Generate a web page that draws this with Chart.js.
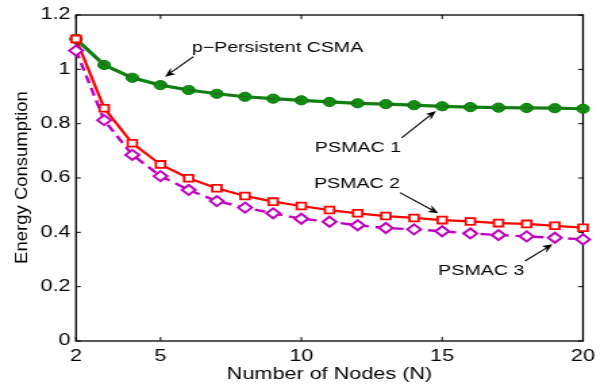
<!DOCTYPE html>
<html>
<head>
<meta charset="utf-8">
<script src="https://cdn.jsdelivr.net/npm/chart.js@4"></script>
<style>
html,body{margin:0;padding:0;background:#fff;overflow:hidden;width:608px;height:389px;}
#wrap{width:450px;height:389px;transform:scaleX(1.3511);transform-origin:0 0;}
</style>
</head>
<body>
<div id="wrap"><canvas id="c" width="450" height="389"></canvas></div>
<script>
// ---- data ----
const nodes = [2,3,4,5,6,7,8,9,10,11,12,13,14,15,16,17,18,19,20];
const csmaValues   = [1.112,1.016,0.969,0.942,0.924,0.910,0.899,0.892,0.886,0.880,0.875,0.872,0.868,0.864,0.861,0.859,0.858,0.857,0.855];
const psmac1Values = [1.112,1.016,0.969,0.942,0.924,0.910,0.899,0.892,0.886,0.880,0.875,0.872,0.868,0.864,0.861,0.859,0.858,0.857,0.855];
const psmac2Values = [1.112,0.857,0.728,0.650,0.599,0.562,0.534,0.513,0.497,0.482,0.470,0.460,0.453,0.445,0.440,0.434,0.431,0.424,0.417];
const psmac3Values = [1.069,0.813,0.685,0.607,0.556,0.515,0.491,0.470,0.450,0.439,0.426,0.416,0.411,0.404,0.396,0.390,0.385,0.380,0.374];
const xTicks = [2,5,10,15,20];
const yTicks = [0,0.2,0.4,0.6,0.8,1,1.2];
const yTickLabels = ['0','0.2','0.4','0.6','0.8','1','1.2'];
const xTitle = 'Number of Nodes (N)';
const yTitle = 'Energy Consumption';
// annotation labels (data coordinates)
const annoText   = ['p\u2212Persistent CSMA','PSMAC 1','PSMAC 2','PSMAC 3'];
const annoTextX  = [6.11, 10.48, 10.45, 14.86];
const annoTextY  = [1.079, 0.711, 0.580, 0.2595];
const arrowFromX = [6.17, 13.56, 13.50, 17.94];
const arrowFromY = [1.047, 0.748, 0.546, 0.2945];
const arrowToX   = [5.16, 14.78, 14.86, 18.92];
const arrowToY   = [0.973, 0.847, 0.470, 0.356];

const S = 1.3511; // horizontal stretch of the wrapper
const FONT = '"Liberation Sans", Arial, Helvetica, sans-serif';

const pts = vals => nodes.map((n,i)=>({x:n,y:vals[i]}));

const framePlugin = {
  id:'frame',
  beforeDatasetsDraw(chart){
    const {ctx, chartArea:a, scales:{x,y}} = chart;
    ctx.save();
    ctx.strokeStyle='#000';
    ctx.lineWidth=1.3;
    ctx.strokeRect(a.left,a.top,a.right-a.left,a.bottom-a.top);
    ctx.lineWidth=1;
    const tl=4;
    xTicks.forEach(v=>{
      const px=x.getPixelForValue(v);
      ctx.beginPath();
      ctx.moveTo(px,a.bottom);ctx.lineTo(px,a.bottom-tl);
      ctx.moveTo(px,a.top);ctx.lineTo(px,a.top+tl);
      ctx.stroke();
    });
    yTicks.forEach(v=>{
      const py=y.getPixelForValue(v);
      ctx.beginPath();
      ctx.moveTo(a.left,py);ctx.lineTo(a.left+tl/S*1.2,py);
      ctx.moveTo(a.right,py);ctx.lineTo(a.right-tl/S*1.2,py);
      ctx.stroke();
    });
    ctx.restore();
  },
  afterDraw(chart){
    const {ctx, scales:{x,y}} = chart;
    ctx.save();
    // y-axis title (compensate horizontal stretch)
    ctx.translate(22/S, 177.5);
    ctx.scale(1/S,1);
    ctx.rotate(-Math.PI/2);
    ctx.fillStyle='#000';
    ctx.font='18.5px '+FONT;
    ctx.textAlign='center';
    ctx.textBaseline='middle';
    ctx.fillText(yTitle,0,0);
    ctx.restore();

    // annotations
    ctx.save();
    ctx.fillStyle='#000';
    ctx.strokeStyle='#000';
    ctx.font='14.5px '+FONT;
    ctx.textAlign='left';
    ctx.textBaseline='middle';
    annoText.forEach((t,i)=>{
      ctx.fillText(t, x.getPixelForValue(annoTextX[i]), y.getPixelForValue(annoTextY[i])+0.5);
      // arrow, computed in displayed (stretched) space
      const x0=x.getPixelForValue(arrowFromX[i])*S, y0=y.getPixelForValue(arrowFromY[i]);
      const x1=x.getPixelForValue(arrowToX[i])*S,   y1=y.getPixelForValue(arrowToY[i]);
      const ang=Math.atan2(y1-y0,x1-x0);
      const L=10, W=4;
      const bx=x1-L*Math.cos(ang), by=y1-L*Math.sin(ang);
      const nx=-Math.sin(ang), ny=Math.cos(ang);
      const mx=x1-L*0.7*Math.cos(ang), my=y1-L*0.7*Math.sin(ang);
      ctx.lineWidth=1.1;
      ctx.beginPath();
      ctx.moveTo(x0/S,y0);ctx.lineTo(mx/S,my);
      ctx.stroke();
      ctx.beginPath();
      ctx.moveTo(x1/S,y1);
      ctx.lineTo((bx+nx*W)/S,by+ny*W);
      ctx.lineTo(mx/S,my);
      ctx.lineTo((bx-nx*W)/S,by-ny*W);
      ctx.closePath();
      ctx.fill();
    });
    ctx.restore();
  }
};

new Chart(document.getElementById('c'),{
  type:'line',
  data:{
    datasets:[
      {label:'PSMAC 1',data:pts(psmac1Values),borderColor:'#0c8a0c',backgroundColor:'#0c8a0c',
       borderWidth:3.2,pointStyle:'circle',pointRadius:4.6,pointBorderWidth:1,pointBorderColor:'#0c7a0c',
       pointBackgroundColor:'#0f8f0f',clip:false,order:3},
      {label:'p-Persistent CSMA',data:pts(csmaValues),borderColor:'#2e5e2e',borderWidth:1.2,
       borderDash:[6,4],pointRadius:0,clip:false,order:2},
      {label:'PSMAC 2',data:pts(psmac2Values),borderColor:'#ff0000',backgroundColor:'#ffffff',
       borderWidth:2.2,pointStyle:'rect',pointRadius:4.8,pointBorderWidth:1.8,pointBorderColor:'#ff0000',
       pointBackgroundColor:'#ffffff',clip:false,order:1},
      {label:'PSMAC 3',data:pts(psmac3Values),borderColor:'#bf00bf',backgroundColor:'#ffffff',
       borderWidth:2.4,borderDash:[8,5],pointStyle:'rectRot',pointRadius:5,pointBorderWidth:2,
       pointBorderColor:'#bf00bf',pointBackgroundColor:'#ffffff',clip:false,order:0}
    ]
  },
  options:{
    responsive:false,
    animation:false,
    events:[],
    layout:{padding:{left:0,right:18.5,top:15,bottom:0}},
    plugins:{legend:{display:false},tooltip:{enabled:false}},
    elements:{line:{tension:0}},
    scales:{
      x:{type:'linear',min:2,max:20,
         afterBuildTicks:s=>{s.ticks=xTicks.map(v=>({value:v}));},
         afterFit:s=>{s.height=48;},
         grid:{display:false,drawTicks:false},
         border:{display:false},
         ticks:{color:'#000',font:{family:FONT,size:16},padding:6,maxRotation:0,autoSkip:false},
         title:{display:true,text:xTitle,color:'#000',font:{family:FONT,size:16},padding:{top:0,bottom:5}}
      },
      y:{type:'linear',min:0,max:1.2,
         afterBuildTicks:s=>{s.ticks=yTicks.map(v=>({value:v}));},
         afterFit:s=>{s.width=56.25;},
         grid:{display:false,drawTicks:false},
         border:{display:false},
         ticks:{color:'#000',font:{family:FONT,size:16},padding:4,autoSkip:false,
                callback:(v)=>{const i=yTicks.indexOf(v);return i>=0?yTickLabels[i]:'';}}
      }
    }
  },
  plugins:[framePlugin]
});
</script>
</body>
</html>
